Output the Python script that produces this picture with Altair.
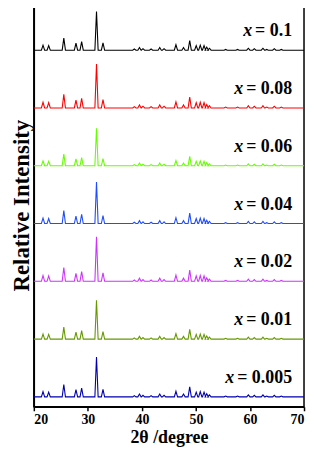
import altair as alt
import pandas as pd

# ---- data ----
x_domain = [20, 70]
tick_values = [20, 25, 30, 35, 40, 45, 50, 55, 60, 65, 70]
peak_pos = [21.7, 22.75, 25.55, 27.8, 28.85, 31.6, 32.8, 38.6, 39.55, 40.2, 41.7,
            43.3, 44.1, 46.3, 47.7, 48.85, 50.05, 50.8, 51.5, 52.0, 52.5, 55.5,
            57.7, 59.7, 60.8, 62.4, 63.1, 64.5, 65.8]
rel_int = [0.13, 0.12, 0.31, 0.18, 0.22, 1.0, 0.19, 0.03, 0.07, 0.04, 0.03,
           0.07, 0.04, 0.14, 0.07, 0.25, 0.12, 0.13, 0.12, 0.08, 0.05, 0.02,
           0.02, 0.05, 0.04, 0.05, 0.02, 0.04, 0.02]
labels = ["0.1", "0.08", "0.06", "0.04", "0.02", "0.01", "0.005"]
colors = ["#000000", "#ff0000", "#66ff00", "#1f4cff", "#cc33ff", "#669900", "#0000b0"]
peak_max = [0.67, 0.76, 0.65, 0.72, 0.77, 0.67, 0.69]
offsets = [6, 5, 4, 3, 2, 1, 0]

# ---- build tables ----
hw = 0.3
rows = []
for lab, off, pm in zip(labels, offsets, peak_max):
    pts = [(x_domain[0], off)]
    for p, r in zip(peak_pos, rel_int):
        pts += [(p - hw, off), (p, off + pm * r), (p + hw, off)]
    pts.append((x_domain[1], off))
    for i, (tt, yy) in enumerate(pts):
        rows.append({"series": lab, "tt": tt, "I": yy, "idx": i})
df = pd.DataFrame(rows)

FS = 18
px_per_deg = 272 / 50
def em_width(s):
    w = 0
    for ch in s:
        w += {"=": 0.57, " ": 0.25, ".": 0.25}.get(ch, 0.5)
    return w * FS

lrows = []
for lab, off in zip(labels, offsets):
    rest = "= " + lab
    right_px = 260
    x_px = right_px - em_width(rest) - 3
    lrows.append({"series": lab, "rest": rest, "xs": "x",
                  "xr": x_domain[0] + right_px / px_per_deg,
                  "xx": x_domain[0] + x_px / px_per_deg,
                  "ly": off + 0.24})
ldf = pd.DataFrame(lrows)

FONT = "Liberation Serif"
xscale = alt.Scale(domain=x_domain, nice=False)
yscale = alt.Scale(domain=[-0.172, 6.808], nice=False, zero=False)

lines = alt.Chart(df).mark_line(strokeWidth=1.1).encode(
    x=alt.X("tt:Q", scale=xscale,
            axis=alt.Axis(values=tick_values, title="2θ /degree",
                          labelExpr="datum.value % 10 == 0 ? datum.label : ''",
                          grid=False)),
    y=alt.Y("I:Q", scale=yscale,
            axis=alt.Axis(title="Relative Intensity", labels=False, ticks=False,
                          grid=False)),
    color=alt.Color("series:N", scale=alt.Scale(domain=labels, range=colors), legend=None),
    order="idx:Q",
)

rest_text = alt.Chart(ldf).mark_text(font=FONT, fontSize=FS, fontWeight="bold",
                                     align="right", baseline="alphabetic", color="black").encode(
    x=alt.X("xr:Q", scale=xscale), y=alt.Y("ly:Q", scale=yscale), text="rest:N")
x_text = alt.Chart(ldf).mark_text(font=FONT, fontSize=FS, fontWeight="bold", fontStyle="italic",
                                  align="right", baseline="alphabetic", color="black").encode(
    x=alt.X("xx:Q", scale=xscale), y=alt.Y("ly:Q", scale=yscale), text="xs:N")

chart = alt.layer(lines, rest_text, x_text).properties(
    width=272, height=406,
    autosize=alt.AutoSizeParams(type="none"),
    padding={"left": 26, "top": -6, "right": 2, "bottom": 40},
).configure(font=FONT).configure_view(stroke="black", strokeWidth=1.5).configure_axis(
    labelFont=FONT, titleFont=FONT,
    labelFontWeight="bold", labelFontSize=14, labelColor="black",
    titleFontWeight="bold", titleColor="black",
    domainColor="black", domainWidth=1.5, tickColor="black", tickWidth=1.5, tickSize=4,
    labelPadding=2,
).configure_axisX(titleFontSize=18, titlePadding=2).configure_axisY(titleFontSize=23, titlePadding=0)

chart.save("out.html", embed_options={"renderer": "svg", "actions": False})
